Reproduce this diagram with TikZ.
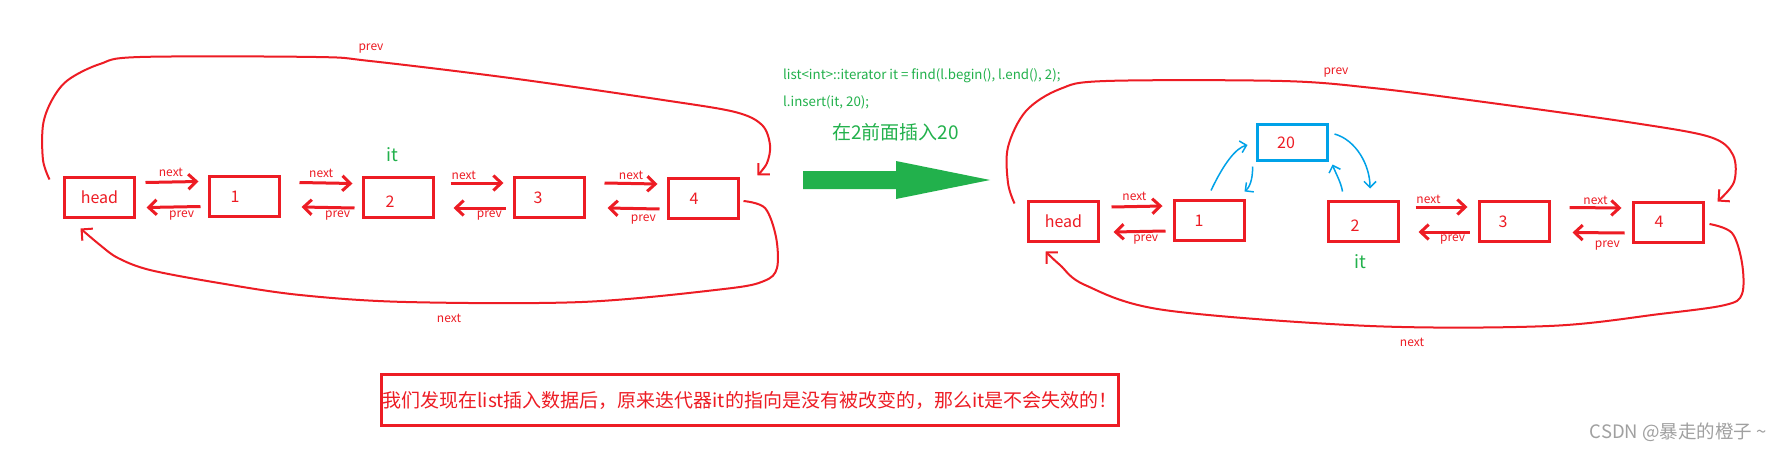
\documentclass[tikz,border=0pt]{standalone}
\usepackage{fontspec}
\setmainfont{Noto Sans CJK SC}
\usetikzlibrary{arrows.meta}
\definecolor{pred}{HTML}{ED1C24}
\definecolor{pgreen}{HTML}{22B14C}
\definecolor{pblue}{HTML}{00A2E8}
\definecolor{wmgrey}{HTML}{A0A0A0}
\begin{document}
\begin{tikzpicture}[x=1pt,y=-1pt,
  box/.style={draw=pred, line width=3pt, minimum width=70pt, minimum height=40pt, inner sep=0pt},
  bluebox/.style={draw=pblue, line width=3pt, minimum width=70pt, minimum height=36pt, inner sep=0pt},
  boxtext/.style={text=pred, inner sep=0pt, font=\fontsize{16}{18}\selectfont},
  arr/.style={draw=pred, line width=3pt, -{Straight Barb[length=8pt,width=15pt]}},
  loopline/.style={draw=pred, line width=2pt, -{Straight Barb[length=8pt,width=16pt]}},
  bluearr/.style={draw=pblue, line width=1.5pt, -{Straight Barb[length=6pt,width=12pt]}},
  lbl/.style={text=pred, inner sep=0pt, font=\fontsize{12}{14}\selectfont},
  ittext/.style={text=pgreen, inner sep=0pt, font=\fontsize{18}{20}\selectfont},
  codetext/.style={text=pgreen, inner sep=0pt, anchor=west, font=\fontsize{13.3}{15}\selectfont}
]
\fill[white] (0,0) rectangle (1783,452);
\useasboundingbox (0,0) rectangle (1783,452);

% ---------------- left list ----------------
\node[box] (hL) at (99.5,197.5) {};
\node[box] (L1) at (244.5,196.5) {};
\node[box] (L2) at (398.5,197.5) {};
\node[box] (L3) at (549.5,197.5) {};
\node[box] (L4) at (703.5,198.5) {};
\node[boxtext] (thL) at (hL.center) {head};
\node[boxtext] (tL1) at ([shift={(-9.5,0)}]L1.center) {1};
\node[boxtext] (tL2) at ([shift={(-8.5,4.5)}]L2.center) {2};
\node[boxtext] (tL3) at ([shift={(-11.5,0)}]L3.center) {3};
\node[boxtext] (tL4) at ([shift={(-9.5,0)}]L4.center) {4};
\node[ittext] (itL) at (392,155) {it};

\draw[arr] ([shift={(9.5,-15)}]hL.east) -- ([shift={(-9.5,-15)}]L1.west) node[lbl, pos=0.48, above=4pt] {next};
\draw[arr] ([shift={(-7.5,10)}]L1.west) -- ([shift={(10.5,10)}]hL.east) node[lbl, pos=0.35, below=2pt] {prev};
\draw[arr] ([shift={(18.5,-14)}]L1.east) -- ([shift={(-9.5,-14)}]L2.west) node[lbl, pos=0.41, above=4pt] {next};
\draw[arr] ([shift={(-7.5,10.5)}]L2.west) -- ([shift={(20.5,10.5)}]L1.east) node[lbl, pos=0.32, below=2pt] {prev};
\draw[arr] ([shift={(15.5,-14.5)}]L2.east) -- ([shift={(-9.5,-14.5)}]L3.west) node[lbl, pos=0.25, above=2pt] {next};
\draw[arr] ([shift={(-7.5,10.5)}]L3.west) -- ([shift={(18.5,10.5)}]L2.east) node[lbl, pos=0.31, below=1pt] {prev};
\draw[arr] ([shift={(18.5,-14.5)}]L3.east) -- ([shift={(-9.5,-14.5)}]L4.west) node[lbl, pos=0.5, above=2pt] {next};
\draw[arr] ([shift={(-7.5,10.5)}]L4.west) -- ([shift={(21.5,10.5)}]L3.east) node[lbl, pos=0.31, below=5pt] {prev};

\draw[loopline] plot[smooth, tension=0.55] coordinates {([shift={(-13.5,3.5)}]hL.north west) (43,160) (43,125) (52,100) (68,80) (100,64) (140,57) (316,57) (370,61) (510,78) (663,100) (735,112) (762,125) (770,145) (767,163) ([shift={(17.5,-1.5)}]L4.north east)};
\draw[loopline] plot[smooth, tension=0.55] coordinates {([shift={(3.5,2.5)}]L4.east) (765,208) (776,237) (777,268) (764,281) (724,289) (582,302) (406,302) (300,295) (219,283) (150,270) (118,258) (100,245) ([shift={(17.5,9.5)}]hL.south west)};
\node[lbl] (pL) at (371,49) {prev};
\node[lbl] (nL) at (449,318) {next};

% ---------------- code and big arrow ----------------
\node[codetext] (code1) at (783,76) {list<int>::iterator it = find(l.begin(), l.end(), 2);};
\node[codetext] (code2) at (783,102) {l.insert(it, 20);};
\node[text=pgreen, inner sep=0pt, anchor=west, font=\fontsize{19}{21}\selectfont] (ins) at (832,132) {在2前面插入20};
\fill[pgreen] (803,171) -- (896,171) -- (896,161) -- (990,180) -- (896,199) -- (896,189) -- (803,189) -- cycle;

% ---------------- right list ----------------
\node[box] (hR) at (1063.5,221.5) {};
\node[box] (R1) at (1209,220.5) {};
\node[box] (R2) at (1363,221.5) {};
\node[box] (R3) at (1514.5,221.5) {};
\node[box] (R4) at (1668,222) {};
\node[bluebox] (R20) at (1292.5,142.5) {};
\node[boxtext] (thR) at (hR.center) {head};
\node[boxtext] (tR1) at ([shift={(-10,0)}]R1.center) {1};
\node[boxtext] (tR2) at ([shift={(-8,4.5)}]R2.center) {2};
\node[boxtext] (tR3) at ([shift={(-11.5,0)}]R3.center) {3};
\node[boxtext] (tR4) at ([shift={(-9,0)}]R4.center) {4};
\node[boxtext] (tR20) at ([shift={(-6.5,0)}]R20.center) {20};
\node[ittext] (itR) at (1360,262) {it};

\draw[arr] ([shift={(11.5,-14.5)}]hR.east) -- ([shift={(-10,-14.5)}]R1.west) node[lbl, pos=0.45, above=4pt] {next};
\draw[arr] ([shift={(-7,10.5)}]R1.west) -- ([shift={(13.5,10.5)}]hR.east) node[lbl, pos=0.38, below=2pt] {prev};
\draw[arr] ([shift={(16,-14.5)}]R2.east) -- ([shift={(-10.5,-14.5)}]R3.west) node[lbl, pos=0.25, above=2pt] {next};
\draw[arr] ([shift={(-8.5,10.5)}]R3.west) -- ([shift={(19,10.5)}]R2.east) node[lbl, pos=0.33, below=1pt] {prev};
\draw[arr] ([shift={(18.5,-14)}]R3.east) -- ([shift={(-10,-14)}]R4.west) node[lbl, pos=0.5, above=2pt] {next};
\draw[arr] ([shift={(-7,11)}]R4.west) -- ([shift={(21.5,11)}]R3.east) node[lbl, pos=0.33, below=6pt] {prev};

\draw[bluearr] ([shift={(2,-8.5)}]R1.north) .. controls (1224,163) and (1236,148) .. ([shift={(-8.5,2.5)}]R20.west);
\draw[bluearr] ([shift={(-3.5,4.5)}]R20.south west) .. controls (1253,180) and (1249,188) .. ([shift={(-1,-7.5)}]R1.north east);
\draw[bluearr] ([shift={(5.5,-8.5)}]R20.east) .. controls (1356,140) and (1370,165) .. ([shift={(7,-11.5)}]R2.north);
\draw[bluearr] ([shift={(16,-8.5)}]R2.north west) .. controls (1341,182) and (1335,172) .. ([shift={(3.5,2.5)}]R20.south east);

\draw[loopline] plot[smooth, tension=0.55] coordinates {([shift={(-12.5,3.5)}]hR.north west) (1008,183) (1008,147) (1026,111) (1060,89) (1106,81) (1282,81) (1373,88) (1484,102) (1634,123) (1710,137) (1733,155) (1734,182) ([shift={(13,1)}]R4.north east)};
\draw[loopline] plot[smooth, tension=0.55] coordinates {([shift={(5,2)}]R4.east) (1732,233) (1742,263) (1742,294) (1725,305) (1660,314) (1549,326) (1370,326) (1164,310) (1085,285) (1060,265) ([shift={(18.5,8.5)}]hR.south west)};
\node[lbl] (pR) at (1336,73) {prev};
\node[lbl] (nR) at (1412,342) {next};

% ---------------- conclusion box ----------------
\node[draw=pred, line width=3pt, minimum width=737pt, minimum height=51pt, inner sep=0pt, text=pred, font=\fontsize{19}{21}\selectfont] (note) at (750,400) {我们发现在list插入数据后，原来迭代器it的指向是没有被改变的，那么it是不会失效的！};

\node[text=wmgrey, inner sep=0pt, anchor=east, font=\fontsize{18.5}{20}\selectfont] (wm) at (1767,432) {CSDN @暴走的橙子 \textasciitilde};
\end{tikzpicture}
\end{document}
